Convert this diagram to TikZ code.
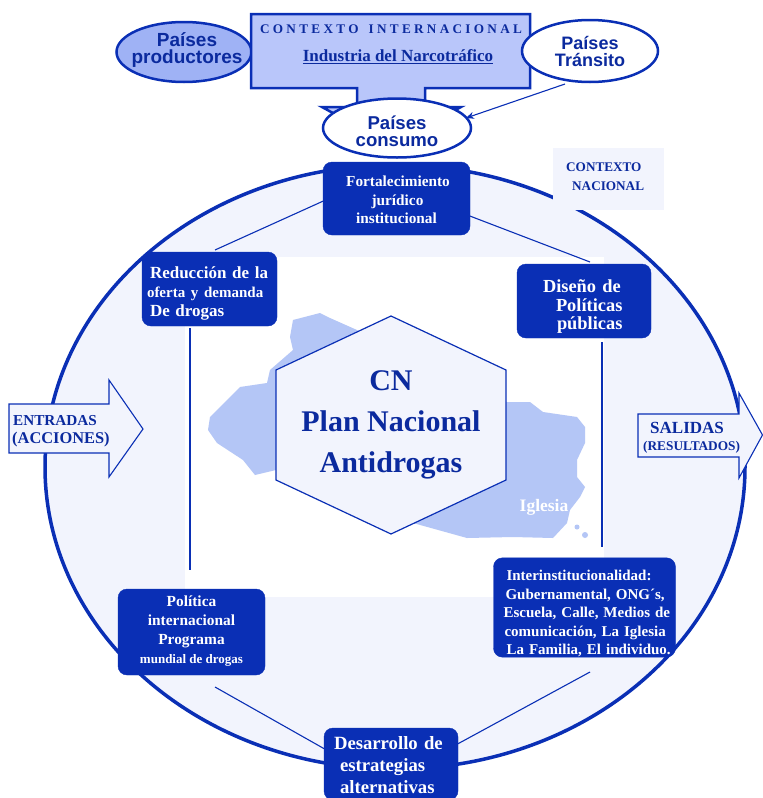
\documentclass[tikz,border=0pt]{standalone}
\usepackage{fontspec}
\setmainfont{Liberation Serif}
\newfontfamily\arialf{Liberation Sans}
\usetikzlibrary{shapes.geometric,arrows.meta}
\definecolor{nb}{HTML}{0A2FB5}
\definecolor{tb}{HTML}{0B2A9E}
\definecolor{pale}{HTML}{F2F4FD}
\definecolor{lav}{HTML}{B9C6FA}
\definecolor{prod}{HTML}{9FB2F5}
\definecolor{land}{HTML}{B4C6F6}
\newcommand{\ofs}[1]{\hspace*{#1pt}}
\tikzset{
 blk/.style={draw=nb,fill=nb,rounded corners=9pt,text=white,font=\bfseries,inner sep=0pt},
 oval/.style={ellipse,draw=nb,line width=2.5pt,text=tb,align=center,inner sep=0pt},
 link/.style={draw=nb,line width=1.1pt},
 arrowbox/.style={draw=nb,line width=1.1pt,fill=pale},
}
\begin{document}
\begin{tikzpicture}[x=1pt,y=-1pt]
\useasboundingbox (0,0) rectangle (763,798);
% big circle
\path[fill=pale,draw=nb,line width=3.5pt] (395,467) ellipse [x radius=350,y radius=302];
% white panel
\fill[white] (185,257) rectangle (604,597);
% context nacional box
\fill[pale] (553,148) rectangle (664,210);
% map
\fill[land] (293,320) -- (320,313) -- (330,318) -- (357,330) -- (400,360) -- (507,402) -- (530,402) -- (543,412) -- (577,417) -- (585,427) -- (585,443) -- (577,460) -- (577,477) -- (585,487) -- (580,497) -- (570,510) -- (567,523) -- (553,538) -- (513,537) -- (467,538) -- (413,523) -- (300,470) -- (276,470) -- (255,475) -- (243,460) -- (217,443) -- (208,430) -- (210,417) -- (240,387) -- (267,383) -- (270,370) -- (293,350) -- (290,337) -- cycle;
\fill[land] (577,527) circle (2.5) (585,535) circle (3);
% top
\node[oval,fill=prod,minimum width=135pt,minimum height=60pt] (prod) at (184,52) {};
\node[text=tb,align=center,inner sep=0pt,font=\arialf\bfseries\fontsize{19}{17.5}\selectfont] (prodt) at (187,50) {Países\\productores};
\path[fill=lav,draw=nb,line width=2.5pt] (251,14) -- (530,14) -- (530,88) -- (425,88) -- (425,107) -- (461,107) -- (391,145) -- (322,107) -- (357,107) -- (357,88) -- (251,88) -- cycle;
\node[font=\bfseries\fontsize{13.2}{13}\selectfont,text=tb] (ci) at (391,29) {C O N T E X T O \ \ I N T E R N A C I O N A L};
\node[font=\bfseries\fontsize{17}{17}\selectfont,text=tb] (ind) at (398,57) {\underline{Industria del Narcotráfico}};
\node[oval,fill=white,minimum width=136pt,minimum height=62pt,font=\arialf\bfseries\fontsize{18}{17}\selectfont] (tra) at (590,51) {Países\\Tránsito};
\node[oval,fill=white,minimum width=148pt,minimum height=59pt,font=\arialf\bfseries\fontsize{18.6}{17}\selectfont] (con) at (397,128) {\rule{0pt}{21pt}Países\\consumo};
\coordinate (traend) at (565,84);
\coordinate (conend) at (466,118);
\draw[link,-{Stealth[length=8pt,width=7pt]}] (traend) -- (conend);
% links
\coordinate (a1) at (215,250); \coordinate (a2) at (590,262); \coordinate (a3) at (602,342);
\coordinate (a4) at (602,547); \coordinate (a5) at (190,328); \coordinate (a6) at (190,570);
\coordinate (a7) at (215,687); \coordinate (a8) at (590,672);
\coordinate (f1) at (330,198); \coordinate (f2) at (462,213);
\coordinate (d1) at (330,752); \coordinate (d2) at (452,747);
\draw[link] (f1) -- (a1);
\draw[link] (f2) -- (a2);
\draw[link] (a3) -- (a4);
\draw[link] (a5) -- (a6);
\draw[link] (a7) -- (d1);
\draw[link] (a8) -- (d2);
% blocks
\node[blk,align=center,minimum width=147pt,minimum height=73pt,font=\bfseries\fontsize{15.3}{18.5}\selectfont] (fort) at (396.5,198.5) {\rule{0pt}{14pt}\ofs{3}Fortalecimiento\\\ofs{2}jurídico\\institucional};
\node[blk,align=left,text width=135pt,minimum height=74pt,font=\bfseries\fontsize{17}{19}\selectfont] (red) at (209.5,289) {\rule{0pt}{21pt}\ofs{8}Reducción de la\\{\fontsize{15}{19}\selectfont\ofs{5}oferta y demanda}\\\ofs{8}De drogas};
\node[blk,align=left,text width=134pt,minimum height=74pt,font=\bfseries\fontsize{18.4}{18.6}\selectfont] (dis) at (584,301) {\rule{0pt}{24pt}\ofs{26}Diseño de\\\ofs{39}Políticas\\\ofs{40}públicas};
\node[blk,align=center,minimum width=147pt,minimum height=86pt,font=\bfseries\fontsize{15.4}{19}\selectfont] (pol) at (191.5,632) {Política\\internacional\\Programa\\{\fontsize{13}{19}\selectfont mundial de drogas}\rule[-4pt]{0pt}{4pt}};
\node[blk,align=left,text width=182pt,minimum height=97pt,font=\bfseries\fontsize{15}{18.5}\selectfont] (int) at (584.5,607.5) {\rule{0pt}{23pt}\ofs{13}Interinstitucionalidad:\\\ofs{12}Gubernamental, ONG´s,\\\ofs{10}Escuela, Calle, Medios de\\\ofs{11}comunicación, La Iglesia\\\ofs{13}La Familia, El individuo.};
\node[blk,align=left,text width=134pt,minimum height=72pt,font=\bfseries\fontsize{18.7}{22}\selectfont] (des) at (391,764) {\rule{0pt}{15pt}\ofs{10}Desarrollo de\\\ofs{16}estrategias\\\ofs{16}alternativas};
% hexagon
\draw[draw=nb,line width=1.2pt,fill=pale] (391,316) -- (506,370) -- (506,480) -- (391,534) -- (276,480) -- (276,370) -- cycle;
\node[font=\bfseries\fontsize{30}{41}\selectfont,text=tb,align=center] (cn) at (391,424.5) {CN\\Plan Nacional\\Antidrogas};
\node[font=\bfseries\fontsize{17.5}{17}\selectfont,text=white] (igl) at (544,507) {Iglesia};
\node[font=\bfseries\fontsize{13.2}{19}\selectfont,text=tb,align=left,anchor=west,inner sep=0pt] (cnac) at (566,177) {CONTEXTO\\\ofs{6}NACIONAL};
% side arrows
\draw[arrowbox] (9,404) -- (109,404) -- (109,380) -- (143,429) -- (109,477) -- (109,453) -- (9,453) -- cycle;
\node[font=\bfseries\fontsize{15.2}{18}\selectfont,text=tb,align=left,anchor=west,inner sep=0pt] (ent) at (12,431) {\ofs{1}ENTRADAS\\{\fontsize{16.4}{18}\selectfont (ACCIONES)}};
\draw[arrowbox] (638,414) -- (739,414) -- (739,393) -- (762.5,435) -- (739,478) -- (739,457) -- (638,457) -- cycle;
\node[font=\bfseries\fontsize{17}{17}\selectfont,text=tb,align=left,anchor=west,inner sep=0pt] (sal) at (643,438) {\ofs{7}SALIDAS\\{\fontsize{13.3}{16}\selectfont (RESULTADOS)}};
\end{tikzpicture}
\end{document}
